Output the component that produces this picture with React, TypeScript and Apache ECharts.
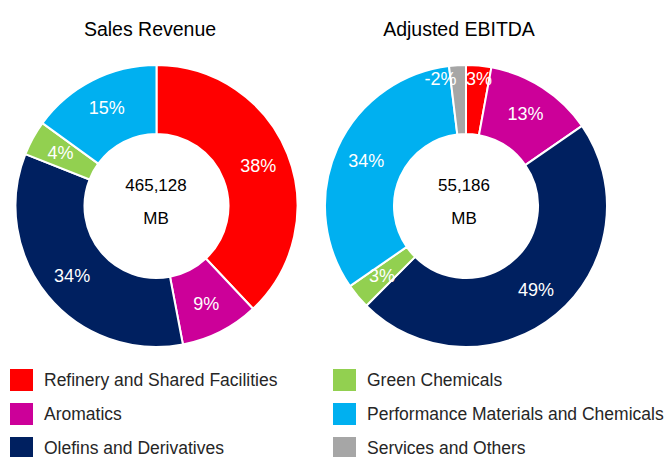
import React, { useEffect, useRef } from "react";
import * as echarts from "echarts";

const categories = [
  "Refinery and Shared Facilities",
  "Aromatics",
  "Olefins and Derivatives",
  "Green Chemicals",
  "Performance Materials and Chemicals",
  "Services and Others",
];
const colors = ["#FF0000", "#CC0099", "#002060", "#92D050", "#00B0F0", "#A6A6A6"];

const salesPct = [38, 9, 34, 4, 15];
const ebitdaPct = [3, 13, 49, 3, 34, -2];

const salesTotal = "465,128";
const ebitdaTotal = "55,186";
const unit = "MB";

const leftLegend = categories.slice(0, 3);
const rightLegend = categories.slice(3, 6);

const FONT = "'Liberation Sans', Arial, sans-serif";

function buildData(pcts: number[]) {
  return pcts.map((p, i) => ({
    name: categories[i],
    value: Math.abs(p),
    pct: p,
    itemStyle: { color: colors[i] },
  }));
}

export default function App() {
  const ref = useRef<HTMLDivElement>(null);
  useEffect(() => {
    if (!ref.current) return;
    const chart = echarts.init(ref.current, null, { renderer: "svg" });
    const labelCommon = {
      show: true,
      position: "inside",
      color: "#ffffff",
      fontSize: 18,
      fontFamily: FONT,
      formatter: (p: any) => `${p.data.pct}%`,
    };
    const common = {
      type: "pie",
      radius: [72, 141],
      startAngle: 90,
      clockwise: true,
      avoidLabelOverlap: false,
      labelLine: { show: false },
      itemStyle: { borderColor: "#ffffff", borderWidth: 2 },
      emphasis: { disabled: true },
      label: labelCommon,
    };
    const legendCommon = {
      orient: "vertical",
      top: 367,
      height: 100,
      padding: 0,
      icon: "rect",
      itemWidth: 25,
      itemHeight: 24,
      itemGap: 8,
      selectedMode: false,
      textStyle: {
        fontSize: 17.5,
        lineHeight: 18,
        color: "#262626",
        fontFamily: FONT,
        padding: [0, 0, 0, 5],
      },
    };
    const centerText = (x: number, y: number, text: string) => ({
      type: "text",
      x,
      y,
      style: { text, fontSize: 17, fill: "#000", fontFamily: FONT, textAlign: "center", textVerticalAlign: "middle" },
    });
    const titleStyle = { fontSize: 19.5, fontWeight: "normal", color: "#000", fontFamily: FONT };
    chart.setOption({
      animation: false,
      textStyle: { fontFamily: FONT },
      title: [
        { text: "Sales Revenue", left: 145, top: 14, textAlign: "center", textStyle: titleStyle },
        { text: "Adjusted EBITDA", left: 454, top: 14, textAlign: "center", textStyle: titleStyle },
      ],
      legend: [
        { ...legendCommon, data: leftLegend, left: 8 },
        { ...legendCommon, data: rightLegend, left: 331 },
      ],
      graphic: [
        centerText(156, 185, salesTotal),
        centerText(156, 218, unit),
        centerText(464, 185, ebitdaTotal),
        centerText(464, 218, unit),
      ],
      series: [
        {
          ...common,
          name: "Sales Revenue",
          center: [156.5, 206],
          data: buildData(salesPct),
        },
        {
          ...common,
          name: "Adjusted EBITDA",
          center: [466, 206],
          data: buildData(ebitdaPct),
          labelLayout: (params: any) => {
            if (params.dataIndex === 0) return { dx: 3, dy: -18 };
            if (params.dataIndex === 5) return { dx: -19, dy: -18 };
            return {};
          },
        },
      ],
    });
    return () => chart.dispose();
  }, []);
  return (
    <div
      ref={ref}
      style={{ position: "fixed", left: 0, top: 0, width: 667, height: 457, background: "#fff" }}
    />
  );
}
